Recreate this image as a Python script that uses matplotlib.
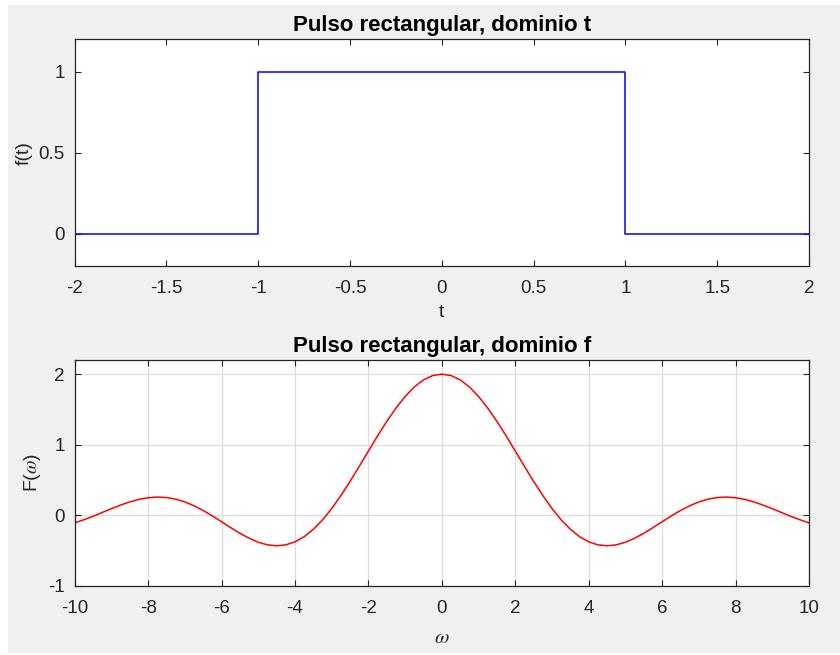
import numpy as np
import matplotlib
matplotlib.use("Agg")
import matplotlib.pyplot as plt
from matplotlib.patches import Rectangle

# ---- data ----
t_pts = [-2, -1, -1, 1, 1, 2]
f_pts = [0, 0, 1, 1, 0, 0]

omega = np.linspace(-10, 10, 81)
F_vals = [
    -0.109, -0.065, -0.016, 0.038, 0.092, 0.143, 0.188, 0.224, 0.247, 0.257,
    0.250, 0.227, 0.188, 0.133, 0.066, -0.011, -0.093, -0.177, -0.257, -0.327,
    -0.384, -0.421, -0.434, -0.421, -0.378, -0.305, -0.200, -0.067, 0.094, 0.278,
    0.479, 0.692, 0.909, 1.125, 1.330, 1.518, 1.683, 1.818, 1.918, 1.979,
    2.000,
    1.979, 1.918, 1.818, 1.683, 1.518, 1.330, 1.125, 0.909, 0.692, 0.479,
    0.278, 0.094, -0.067, -0.200, -0.305, -0.378, -0.421, -0.434, -0.421, -0.384,
    -0.327, -0.257, -0.177, -0.093, -0.011, 0.066, 0.133, 0.188, 0.227, 0.250,
    0.257, 0.247, 0.224, 0.188, 0.143, 0.092, 0.038, -0.016, -0.065, -0.109,
]

top_xticks = [-2, -1.5, -1, -0.5, 0, 0.5, 1, 1.5, 2]
top_xticklabels = ["-2", "-1.5", "-1", "-0.5", "0", "0.5", "1", "1.5", "2"]
top_yticks = [0, 0.5, 1]
top_yticklabels = ["0", "0.5", "1"]
bot_xticks = [-10, -8, -6, -4, -2, 0, 2, 4, 6, 8, 10]
bot_xticklabels = ["-10", "-8", "-6", "-4", "-2", "0", "2", "4", "6", "8", "10"]
bot_yticks = [-1, 0, 1, 2]
bot_yticklabels = ["-1", "0", "1", "2"]

title_top = "Pulso rectangular, dominio t"
title_bot = "Pulso rectangular, dominio f"

# ---- style ----
plt.rcParams['font.family'] = ['Liberation Sans', 'DejaVu Sans']
plt.rcParams['mathtext.fontset'] = 'stix'
W, H = 840, 655
fig = plt.figure(figsize=(W / 100, H / 100), dpi=100)
fig.patch.set_facecolor('white')
fig.patches.append(Rectangle((8 / W, 2 / H), 1, (H - 7) / H, transform=fig.transFigure,
                             facecolor='#f0f0f0', edgecolor='none', zorder=-10))

axc = '#262626'
left, right = 74.7 / W, 809 / W
ax1 = fig.add_axes([left, 1 - 266 / H, right - left, (266 - 39.3) / H])
ax2 = fig.add_axes([left, 1 - 585.7 / H, right - left, (585.7 - 360) / H])

def style(ax):
    ax.set_facecolor('white')
    for s in ax.spines.values():
        s.set_color(axc)
        s.set_linewidth(0.9)
    ax.tick_params(direction='in', length=4.5, width=0.8, color=axc,
                   labelcolor=axc, labelsize=13.5, top=True, right=True)
    ax.tick_params(axis='x', pad=10)
    ax.tick_params(axis='y', pad=7)

style(ax1)
ax1.plot(t_pts, f_pts, color='#0000ff', lw=1.1)
ax1.set_xlim(-2, 2)
ax1.set_ylim(-0.2, 1.2)
ax1.set_xticks(top_xticks, top_xticklabels)
ax1.set_yticks(top_yticks, top_yticklabels)
ax1.set_title(title_top, fontsize=16, fontweight='bold', pad=6)
ax1.set_xlabel("t", fontsize=14, color=axc, labelpad=5)
ax1.set_ylabel("f(t)", fontsize=14, color=axc, labelpad=4)

style(ax2)
ax2.grid(True, color='#dcdcdc', lw=0.9)
ax2.set_axisbelow(True)
ax2.plot(omega, F_vals, color='#ff0000', lw=1.1)
ax2.set_xlim(-10, 10)
ax2.set_ylim(-1, 2.2)
ax2.set_xticks(bot_xticks, bot_xticklabels)
ax2.set_yticks(bot_yticks, bot_yticklabels)
ax2.set_title(title_bot, fontsize=16, fontweight='bold', pad=6)
ax2.set_xlabel(r"$\omega$", fontsize=15, color=axc, labelpad=8)
ax2.set_ylabel(r"F($\omega$)", fontsize=14, color=axc, labelpad=4)

fig.savefig("out.png", dpi=100, facecolor=fig.get_facecolor())
